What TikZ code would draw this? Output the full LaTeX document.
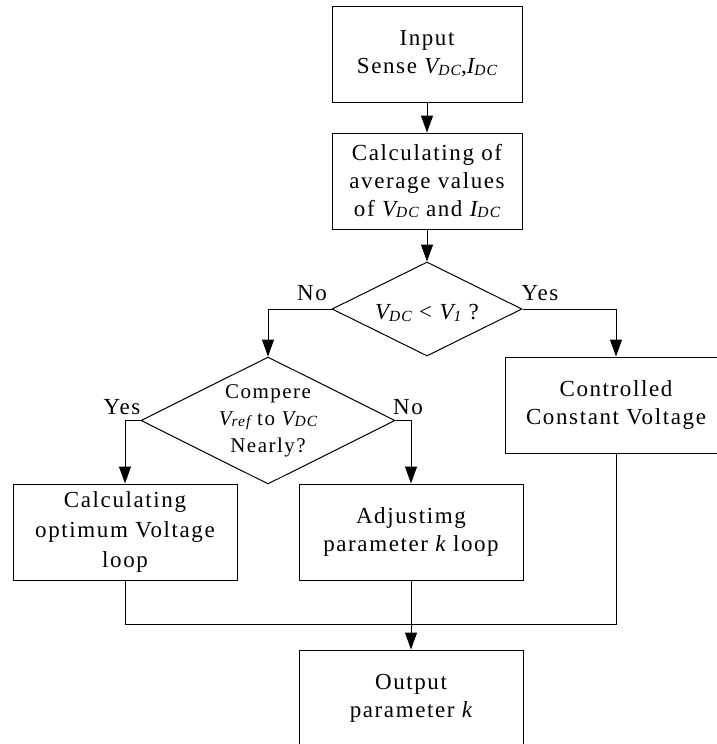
\documentclass[tikz,border=0pt]{standalone}
\usepackage{fontspec}
\setmainfont{Liberation Serif}[LetterSpace=7]
\usetikzlibrary{shapes.geometric,arrows.meta}
\newcommand{\lowsub}[1]{\raisebox{-1.5pt}{\fontsize{15.5}{15.5}\selectfont\itshape #1}}
\newcommand{\VDC}{{\itshape V}\lowsub{DC}}
\newcommand{\IDC}{{\itshape I}\lowsub{DC}}
\tikzset{
  x=1pt, y=-1pt,
  every node/.style={font=\fontsize{23}{28}\selectfont},
  box/.style={draw, line width=1pt, rectangle, align=center, inner sep=0pt,
              minimum height=96pt},
  decision/.style={draw, line width=1pt, diamond, inner sep=0pt},
  conn/.style={line width=1pt},
  arr/.style={conn, -{Triangle[length=17pt,width=12pt]}},
  lbl/.style={anchor=base, inner sep=0pt},
}
\begin{document}
\begin{tikzpicture}
\clip (0,0) rectangle (717,744);
\node[box, minimum width=190pt] (in) at (427,54) {Input\\Sense \VDC,\IDC};
\node[box, minimum width=190pt] (avg) at (427,181) {Calculating of\\average values\\of \VDC{} and \IDC};
\node[decision, minimum width=190pt, minimum height=94pt,
      label={[inner sep=0pt, yshift=-4pt]center:\VDC{} < {\itshape V}\lowsub{1} ?}] (d1) at (427,309) {};
\node[decision, minimum width=254pt, minimum height=127pt,
      label={[inner sep=0pt, align=center, font=\fontsize{21}{27}\selectfont]center:Compere\\{\itshape V}\lowsub{ref} to \VDC\\Nearly?}] (d2) at (268,420.5) {};
\node[box, minimum width=222pt] (ctrl) at (616,405) {Controlled\\Constant Voltage};
\node[box, minimum width=224pt, font=\fontsize{23}{30}\selectfont] (opt) at (125,532) {Calculating\\optimum Voltage\\loop};
\node[box, minimum width=224pt] (adj) at (411,532) {Adjustimg\\parameter {\itshape k} loop};
\node[box, minimum width=224pt] (out) at (411,698) {Output\\parameter {\itshape k}};
\coordinate (m) at (411,624);

\node[lbl] (no1) at (312,300) {No};
\node[lbl] (yes1) at (540,300) {Yes};
\node[lbl] (yes2) at (122,414) {Yes};
\node[lbl] (no2) at (408,414) {No};

\draw[arr] (in.south) -- (avg.north);
\draw[arr] (avg.south) -- (d1.north);
\draw[arr] (d1.west) -| (d2.north);
\draw[arr] (d1.east) -| (ctrl.north);
\draw[arr] (d2.west) -| (opt.north);
\draw[arr] (d2.east) -| (adj.north);
\draw[conn] (opt.south) |- (m);
\draw[conn] (ctrl.south) |- (m);
\draw[arr] (adj.south) -- (out.north);
\end{tikzpicture}
\end{document}
